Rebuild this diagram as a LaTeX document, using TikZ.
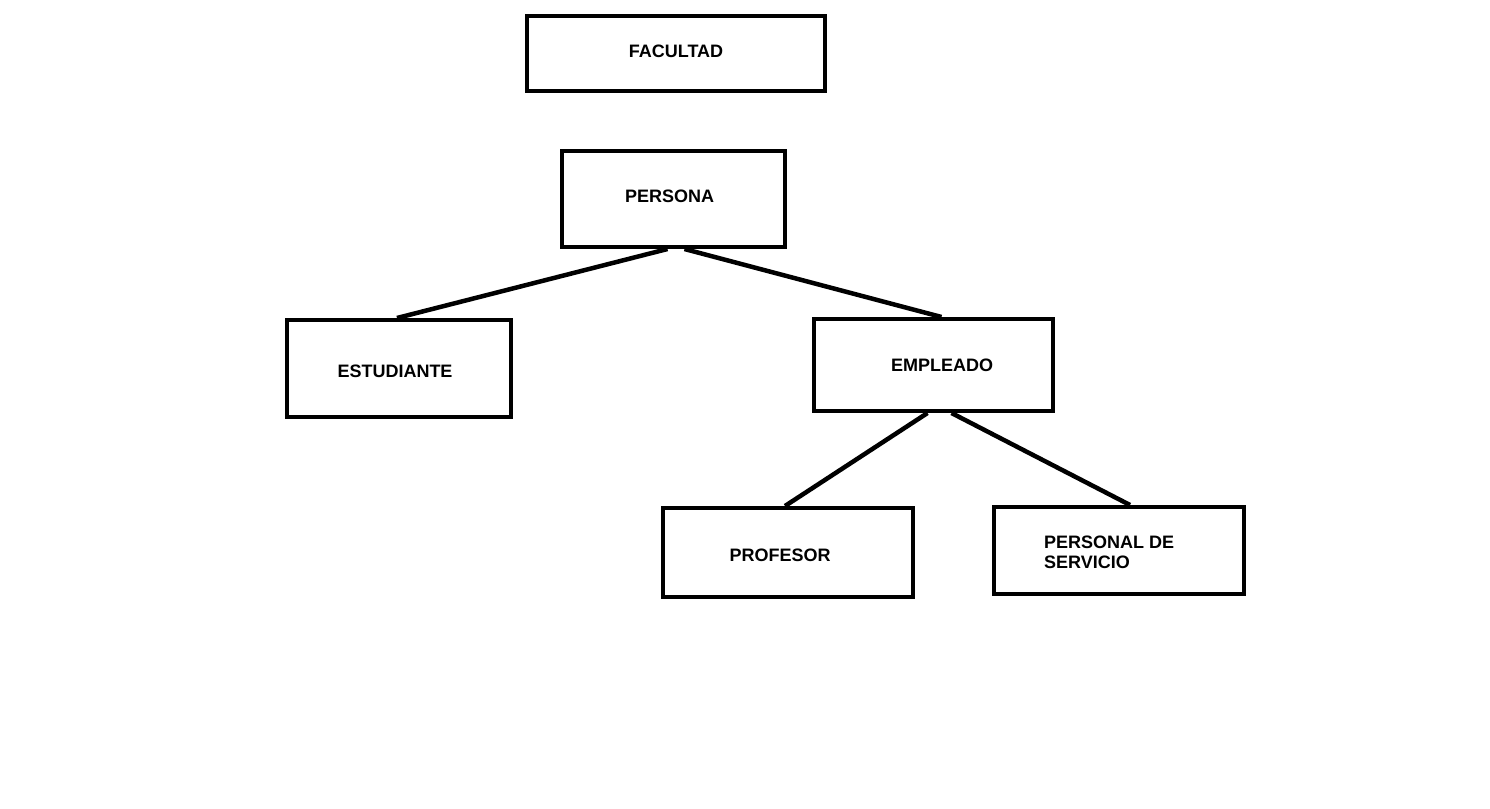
\documentclass[tikz,border=0pt]{standalone}
\usepackage{fontspec}
\setmainfont{Liberation Sans}
\begin{document}
\begin{tikzpicture}[x=1pt,y=-1pt,
  box/.style={draw=black,line width=4pt,inner sep=0pt,minimum width=#1},
  lbl/.style={font=\fontsize{18}{20}\selectfont\bfseries,inner sep=0pt,anchor=base},
  conn/.style={line width=4.5pt}]
\useasboundingbox[fill=white] (0,0) rectangle (1490,808);
\node[box=298pt,minimum height=75pt] (fac) at (676,53.5) {};
\node[box=223pt,minimum height=96pt] (per) at (673.5,199) {};
\node[box=224pt,minimum height=97pt] (est) at (399,368.5) {};
\node[box=239pt,minimum height=92pt] (emp) at (933.5,365) {};
\node[box=250pt,minimum height=89pt] (pro) at (788,552.5) {};
\node[box=250pt,minimum height=87pt] (ser) at (1119,550.5) {};
\node[lbl] (tfac) at (676,57) {FACULTAD};
\node[lbl] (tper) at (669.5,202) {PERSONA};
\node[lbl] (test) at (395,377) {ESTUDIANTE};
\node[lbl] (temp) at (942,371) {EMPLEADO};
\node[lbl] (tpro) at (780,561) {PROFESOR};
\node[lbl,anchor=base west,align=left] (tser) at (1044,568) {PERSONAL DE\\SERVICIO};
\draw[conn] ([xshift=-6pt]per.south) -- ([xshift=-2pt]est.north);
\draw[conn] ([xshift=11pt]per.south) -- ([xshift=8pt]emp.north);
\draw[conn] ([xshift=-6pt]emp.south) -- ([xshift=-3pt]pro.north);
\draw[conn] ([xshift=18pt]emp.south) -- ([xshift=11pt]ser.north);
\end{tikzpicture}
\end{document}
